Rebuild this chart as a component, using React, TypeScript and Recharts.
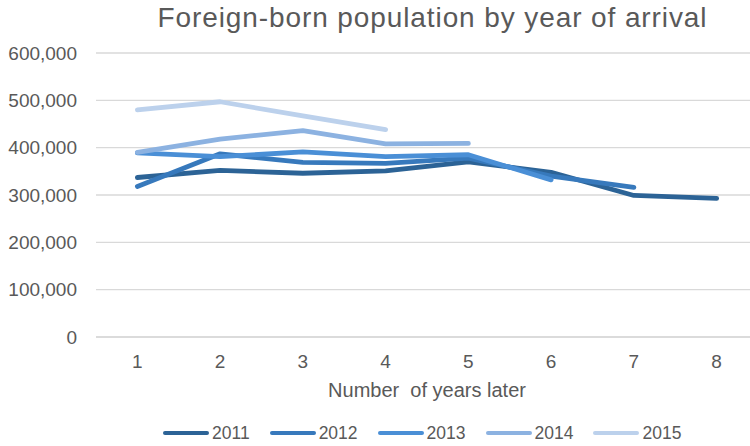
import React from 'react';
import { LineChart, Line, XAxis, YAxis, CartesianGrid, Legend } from 'recharts';

const yearsLater = [1, 2, 3, 4, 5, 6, 7, 8];
const s2011 = [337000, 352000, 346000, 351000, 370000, 348000, 299000, 293000];
const s2012 = [318000, 387000, 369000, 367000, 378000, 340000, 316000, null];
const s2013 = [389000, 381000, 391000, 381000, 385000, 332000, null, null];
const s2014 = [390000, 418000, 436000, 408000, 409000, null, null, null];
const s2015 = [480000, 497000, 467000, 438000, null, null, null, null];
const yTicks = [0, 100000, 200000, 300000, 400000, 500000, 600000];

const seriesNames = ['2011', '2012', '2013', '2014', '2015'];
const seriesValues = [s2011, s2012, s2013, s2014, s2015];
const colors = ['#2C6396', '#3779BC', '#4A8FD6', '#8CB2E1', '#BCD1EC'];

const data = yearsLater.map((x, i) => {
  const row: Record<string, number | null> = { x };
  seriesNames.forEach((n, k) => {
    row[n] = seriesValues[k][i];
  });
  return row;
});

const FONT = '"Liberation Sans", Arial, sans-serif';
const TXT = '#595959';

const fmt = (v: number) => v.toLocaleString('en-US');

const LegendContent = () => (
  <div style={{ display: 'flex', height: 26, alignItems: 'center', paddingLeft: 163, fontFamily: FONT, fontSize: 17.5, color: TXT }}>
    {seriesNames.map((n, k) => (
      <div key={n} style={{ display: 'flex', alignItems: 'center', marginRight: 20 }}>
        <div style={{ width: 46, height: 4, borderRadius: 2, background: colors[k], marginRight: 3 }} />
        <span>{n}</span>
      </div>
    ))}
  </div>
);

export default function App() {
  return (
    <div style={{ position: 'absolute', left: 0, top: 0, width: 750, height: 446, background: '#fff', overflow: 'hidden' }}>
      <div style={{ position: 'absolute', left: 0, top: 1, width: 865, textAlign: 'center', fontFamily: FONT, fontSize: 28, letterSpacing: 0.9, color: TXT, lineHeight: '34px' }}>
        Foreign-born population by year of arrival
      </div>
      <LineChart width={750} height={446} data={data} margin={{ top: 53, right: -8, bottom: 0, left: 0 }} style={{ position: 'absolute', left: 0, top: 0 }}>
        <CartesianGrid vertical={false} stroke="#D9D9D9" strokeWidth={1.3} />
        <XAxis
          dataKey="x"
          type="number"
          domain={[0.5, 8.5]}
          ticks={yearsLater}
          height={83}
          axisLine={{ stroke: '#D9D9D9', strokeWidth: 1.3 }}
          tickLine={false}
          tickSize={0}
          tickMargin={18}
          tick={{ fill: TXT, fontSize: 19, fontFamily: FONT }}
          label={(props: any) => {
            const vb = props.viewBox || {};
            return (
              <text x={(vb.x ?? 96) + (vb.width ?? 662) / 2} y={397} textAnchor="middle" fill={TXT} fontSize={20} fontFamily={FONT} style={{ whiteSpace: 'pre' }}>
                {'Number  of years later'}
              </text>
            );
          }}
        />
        <YAxis
          width={96}
          domain={[0, 600000]}
          ticks={yTicks}
          axisLine={false}
          tickLine={false}
          tickSize={0}
          tickMargin={19}
          tickFormatter={fmt}
          tick={{ fill: TXT, fontSize: 19, fontFamily: FONT }}
        />
        <Legend content={LegendContent} wrapperStyle={{ top: 420, left: 0, width: 750 }} />
        {seriesNames.map((n, k) => (
          <Line
            key={n}
            dataKey={n}
            type="linear"
            stroke={colors[k]}
            strokeWidth={4.8}
            strokeLinecap="round"
            strokeLinejoin="round"
            dot={false}
            activeDot={false}
            isAnimationActive={false}
          />
        ))}
      </LineChart>
    </div>
  );
}
